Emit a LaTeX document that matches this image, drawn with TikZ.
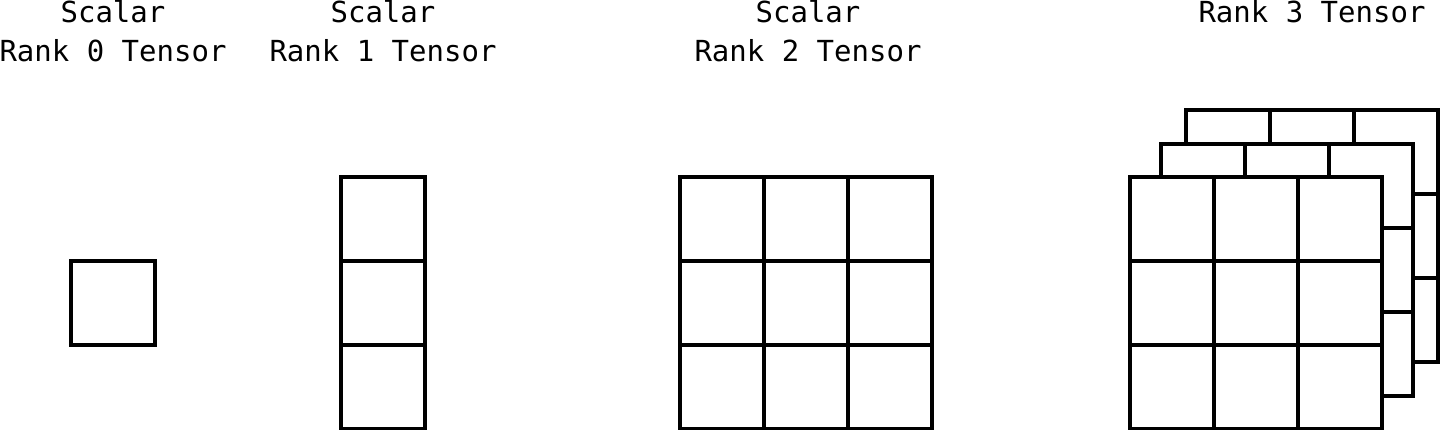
\documentclass[tikz,border=0pt]{standalone}
\usepackage{fontspec}
\setmonofont{DejaVu Sans Mono}

\begin{document}
\begin{tikzpicture}[%
    x=1pt, y=-1pt,     % one unit is one pixel of the sketch
    line width=3.4pt,
    ]

\tikzset{
  cell/.style={draw, fill=white, line join=miter},
  caption/.style={font=\ttfamily\fontsize{29}{39}\selectfont, align=center, inner sep=0pt, anchor=base}
  };

\useasboundingbox (0,0) rectangle (1440,430);

% RANK 0
\draw[cell] (71,261) rectangle +(84,84);
\node[caption] (rank0) at (113,62) {Scalar\\Rank 0 Tensor};

% RANK 1
\foreach \r in {0,1,2}
  \draw[cell] (341,177+84*\r) rectangle +(84,84);
\node[caption] (rank1) at (383,62) {Scalar\\Rank 1 Tensor};

% RANK 2
\foreach \c in {0,1,2}
  \foreach \r in {0,1,2}
    \draw[cell] (680+84*\c,177+84*\r) rectangle +(84,84);
\node[caption] (rank2) at (808,62) {Scalar\\Rank 2 Tensor};

% RANK 3 -- back layer first, front layer last
\foreach \dx/\dy in {56/-67, 31/-33, 0/0}
  \foreach \c in {0,1,2}
    \foreach \r in {0,1,2}
      \draw[cell] (1130+\dx+84*\c,177+\dy+84*\r) rectangle +(84,84);
\node[caption] (rank3) at (1312,23) {Rank 3 Tensor};

\end{tikzpicture}
\end{document}
